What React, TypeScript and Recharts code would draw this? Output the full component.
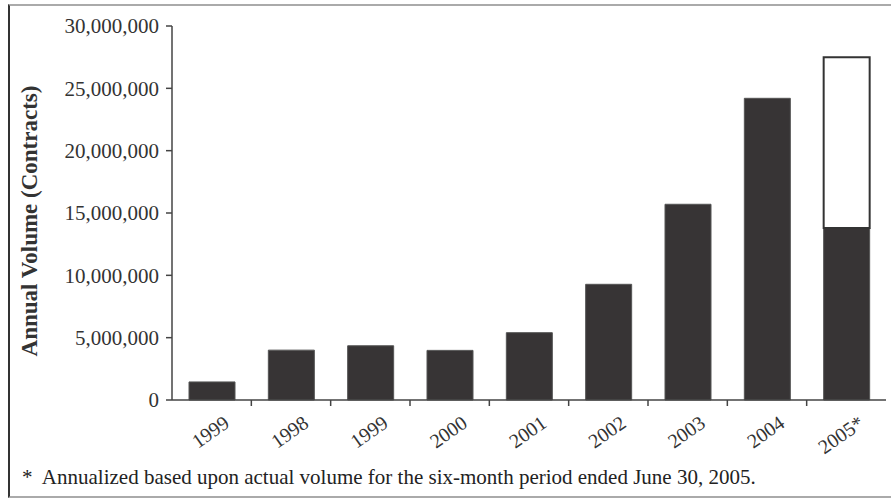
import React from "react";
import { BarChart, Bar, XAxis, YAxis } from "recharts";

const categories = ["1999", "1998", "1999", "2000", "2001", "2002", "2003", "2004", "2005*"];
const actualVolume = [1450000, 4000000, 4350000, 3980000, 5400000, 9280000, 15700000, 24200000, 13800000];
const annualizedExtra = [null, null, null, null, null, null, null, null, 13700000];
const yTicks = [0, 5000000, 10000000, 15000000, 20000000, 25000000, 30000000];
const footnote = "*  Annualized based upon actual volume for the six-month period ended June 30, 2005.";

const data = categories.map((c, i) => ({
  label: c,
  actual: actualVolume[i],
  extra: annualizedExtra[i],
}));

const FONT = "'Liberation Serif', 'Times New Roman', serif";

const fmt = (v: number) => v.toLocaleString("en-US");

const XTick = (props: any) => {
  const { x, y, payload, index } = props;
  const half = payload && typeof payload.offset === "number" && payload.offset > 0 ? payload.offset : 40;
  const tx = x + 19;
  const ty = y + 18;
  return (
    <g>
      {index < categories.length - 1 && (
        <line x1={x + half} x2={x + half} y1={y - 8} y2={y - 2} stroke="#444" strokeWidth={1.5} />
      )}
      <text
        x={tx}
        y={ty}
        textAnchor="end"
        fontFamily={FONT}
        fontSize={20}
        fill="#333"
        transform={`rotate(-35, ${tx}, ${ty})`}
      >
        {payload.value}
      </text>
    </g>
  );
};

export default function App() {
  return (
    <div style={{ position: "absolute", left: 0, top: 0, width: 891, height: 498, background: "#fff", overflow: "hidden" }}>
      <div
        style={{
          position: "absolute",
          left: 8,
          top: 4,
          width: 900,
          height: 490,
          borderLeft: "2px solid #333",
          borderTop: "2px solid #aaa",
          borderBottom: "2px solid #aaa",
        }}
      />
      <div style={{ position: "absolute", left: 0, top: 0 }}>
        <BarChart
          width={891}
          height={498}
          data={data}
          margin={{ top: 26, right: 5, bottom: 38, left: 0 }}
          barSize={46}
        >
          <XAxis
            dataKey="label"
            height={60}
            tickLine={false}
            axisLine={{ stroke: "#444", strokeWidth: 1.5 }}
            tick={<XTick />}
            interval={0}
          />
          <YAxis
            width={172}
            domain={[0, 30000000]}
            ticks={yTicks}
            tickFormatter={fmt}
            axisLine={{ stroke: "#444", strokeWidth: 1.5 }}
            tickLine={{ stroke: "#444", strokeWidth: 1.5 }}
            tickSize={6}
            tickMargin={7}
            tick={{ fontFamily: FONT, fontSize: 21, fill: "#333" }}
            label={{
              value: "Annual Volume (Contracts)",
              angle: -90,
              position: "insideLeft",
              dx: 24,
              dy: 8,
              style: { fontFamily: FONT, fontSize: 23, fontWeight: "bold", fill: "#333", textAnchor: "middle" },
            }}
          />
          <Bar dataKey="actual" stackId="a" fill="#373435" stroke="#555" strokeWidth={1} isAnimationActive={false} />
          <Bar dataKey="extra" stackId="a" fill="#ffffff" stroke="#333" strokeWidth={2} isAnimationActive={false} />
        </BarChart>
      </div>
      <div
        style={{
          position: "absolute",
          left: 22,
          top: 465,
          fontFamily: FONT,
          fontSize: 21,
          color: "#222",
          whiteSpace: "pre",
        }}
      >
        {footnote}
      </div>
    </div>
  );
}
